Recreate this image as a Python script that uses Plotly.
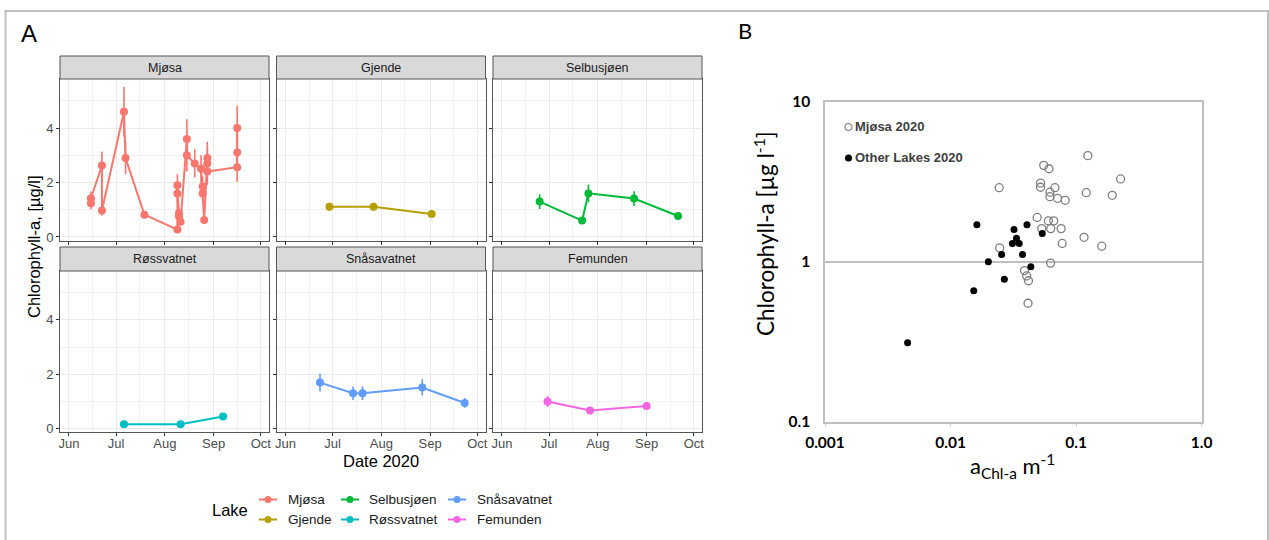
import plotly.graph_objects as go

W, H = 1269, 540

# ---------------- Panel A: chlorophyll-a time series per lake ----------------
lakes = ["Mjøsa", "Gjende", "Selbusjøen", "Røssvatnet", "Snåsavatnet", "Femunden"]
lake_colors = ["#F8766D", "#B79F00", "#00BA38", "#00BFC4", "#619CFF", "#F564E3"]

mjosa_dates = ["2020-06-15", "2020-06-15", "2020-06-22", "2020-06-22", "2020-07-06",
               "2020-07-07", "2020-07-19", "2020-08-09", "2020-08-09", "2020-08-09",
               "2020-08-10", "2020-08-10", "2020-08-11", "2020-08-15", "2020-08-15",
               "2020-08-20", "2020-08-24", "2020-08-25", "2020-08-25", "2020-08-26",
               "2020-08-28", "2020-08-28", "2020-08-28", "2020-09-16", "2020-09-16",
               "2020-09-16"]
mjosa_chl = [1.24, 1.42, 2.62, 0.97, 4.60, 2.90, 0.82, 0.27, 1.90, 1.60, 0.87, 0.75,
             0.56, 3.60, 3.00, 2.70, 2.50, 1.85, 1.60, 0.62, 2.90, 2.70, 2.40, 2.56,
             4.00, 3.10]
mjosa_err = [0.22, 0.25, 0.52, 0.18, 0.92, 0.60, 0.13, 0.05, 0.40, 0.32, 0.17, 0.15,
             0.11, 0.72, 0.60, 0.52, 0.50, 0.37, 0.32, 0.12, 0.60, 0.54, 0.48, 0.53,
             0.82, 0.62]

gjende_dates = ["2020-06-29", "2020-07-27", "2020-09-02"]
gjende_chl = [1.11, 1.11, 0.84]
gjende_err = [0.15, 0.15, 0.12]

selbu_dates = ["2020-06-25", "2020-07-22", "2020-07-26", "2020-08-24", "2020-09-21"]
selbu_chl = [1.30, 0.60, 1.60, 1.41, 0.77]
selbu_err = [0.27, 0.08, 0.33, 0.27, 0.13]

rossv_dates = ["2020-07-06", "2020-08-11", "2020-09-07"]
rossv_chl = [0.16, 0.16, 0.44]
rossv_err = [0.03, 0.03, 0.05]

snasa_dates = ["2020-06-23", "2020-07-14", "2020-07-20", "2020-08-27", "2020-09-23"]
snasa_chl = [1.69, 1.30, 1.30, 1.51, 0.94]
snasa_err = [0.33, 0.25, 0.25, 0.30, 0.18]

femun_dates = ["2020-06-30", "2020-07-27", "2020-09-01"]
femun_chl = [0.99, 0.66, 0.83]
femun_err = [0.20, 0.10, 0.14]

series = [
    (mjosa_dates, mjosa_chl, mjosa_err),
    (gjende_dates, gjende_chl, gjende_err),
    (selbu_dates, selbu_chl, selbu_err),
    (rossv_dates, rossv_chl, rossv_err),
    (snasa_dates, snasa_chl, snasa_err),
    (femun_dates, femun_chl, femun_err),
]

# ---------------- Panel B: chlorophyll-a vs absorption ----------------
mjosa_achl = [0.0244, 0.0552, 0.0608, 0.0521, 0.0521, 0.0678, 0.0619, 0.0619, 0.0711,
              0.0818, 0.124, 0.1205, 0.194, 0.226, 0.0489, 0.0601, 0.0663, 0.0532,
              0.0628, 0.0759, 0.1156, 0.160, 0.0774, 0.0246, 0.0626, 0.0388, 0.0404,
              0.0417, 0.0414]
mjosa_chl_b = [2.90, 4.00, 3.81, 3.10, 2.92, 2.90, 2.72, 2.55, 2.49, 2.42, 4.60, 2.70,
               2.60, 3.29, 1.89, 1.80, 1.80, 1.61, 1.61, 1.61, 1.42, 1.25, 1.30, 1.22,
               0.98, 0.88, 0.815, 0.76, 0.55]

other_achl = [0.0162, 0.0406, 0.0320, 0.0537, 0.0335, 0.0311, 0.0352, 0.0255, 0.0374,
              0.0200, 0.0436, 0.0268, 0.0153, 0.00455]
other_chl = [1.70, 1.70, 1.59, 1.50, 1.40, 1.30, 1.30, 1.11, 1.11, 1.00, 0.93, 0.776,
             0.659, 0.312]

b_xticks = [0.001, 0.01, 0.1, 1.0]
b_xticklabels = ["0.001", "0.01", "0.1", "1.0"]
b_yticks = [0.1, 1, 10]
b_yticklabels = ["0.1", "1", "10"]


def px(x):
    return x / W


def py(y):
    return 1 - y / H


FONT_A = "Liberation Sans, Arial, sans-serif"
FONT_B = "Lato, Carlito, sans-serif"

fig = go.Figure()
shapes = []
annotations = []

col_x0 = [60, 276.5, 493]
col_w = 209
strip_top = [56, 247]
plot_top = [79, 271]
plot_bot = [240.5, 432]

x_range = ["2020-05-26 08:00", "2020-10-06 05:00"]
y_range = [-0.13, 5.8]

for i, lake in enumerate(lakes):
    r, c = divmod(i, 3)
    n = i + 1
    dates, vals, errs = series[i]
    col = lake_colors[i]
    fig.add_trace(go.Scatter(
        x=dates, y=vals, mode="lines+markers",
        line=dict(color=col, width=2),
        marker=dict(color=col, size=8),
        error_y=dict(type="data", array=errs, color=col, thickness=1.6, width=0),
        xaxis=f"x{n}", yaxis=f"y{n}", showlegend=False, name=lake,
    ))
    x0, x1 = col_x0[c], col_x0[c] + col_w
    fig.layout[f"xaxis{n}"] = dict(
        domain=[px(x0), px(x1)], anchor=f"y{n}", type="date", range=x_range,
        automargin=False,
        dtick="M1", tick0="2020-06-01", tickformat="%b",
        showticklabels=(r == 1), ticks="outside", ticklen=3, tickcolor="#333333",
        ticklabelstandoff=-4,
        tickfont=dict(family=FONT_A, size=13, color="#4D4D4D"),
        showline=True, mirror=True, linecolor="#555555", linewidth=1,
        showgrid=True, gridcolor="#EBEBEB", gridwidth=1.2, zeroline=False,
        minor=dict(showgrid=True, gridcolor="#F2F2F2", gridwidth=0.8,
                   dtick="M1", tick0="2020-05-16"),
    )
    fig.layout[f"yaxis{n}"] = dict(
        domain=[py(plot_bot[r]), py(plot_top[r])], anchor=f"x{n}", range=y_range,
        automargin=False,
        tickvals=[0, 2, 4], showticklabels=(c == 0), ticks="outside", ticklen=3,
        tickcolor="#333333", tickfont=dict(family=FONT_A, size=13, color="#4D4D4D"),
        showline=True, mirror=True, linecolor="#555555", linewidth=1,
        showgrid=True, gridcolor="#EBEBEB", gridwidth=1.2, zeroline=False,
        minor=dict(showgrid=True, gridcolor="#F2F2F2", gridwidth=0.8, tickvals=[1, 3, 5]),
    )
    # facet strip
    shapes.append(dict(type="rect", xref="paper", yref="paper",
                       x0=px(x0), x1=px(x1), y0=py(plot_top[r]), y1=py(strip_top[r]),
                       fillcolor="#D9D9D9", line=dict(color="#555555", width=1)))
    annotations.append(dict(xref="paper", yref="paper", x=px((x0 + x1) / 2),
                            y=py((strip_top[r] + plot_top[r]) / 2), text=lake,
                            showarrow=False, xanchor="center", yanchor="middle",
                            font=dict(family=FONT_A, size=12.5, color="#1A1A1A")))

# axis titles for panel A
annotations.append(dict(xref="paper", yref="paper", x=px(381), y=py(461),
                        text="Date 2020", showarrow=False, xanchor="center",
                        yanchor="middle", font=dict(family=FONT_A, size=16.5, color="#000000")))
annotations.append(dict(xref="paper", yref="paper", x=px(34), y=py(247),
                        text="Chlorophyll-a, [µg/l]", showarrow=False, textangle=-90,
                        xanchor="center", yanchor="middle",
                        font=dict(family=FONT_A, size=16.5, color="#000000")))

# legend for panel A (3 columns x 2 rows, column-major)
annotations.append(dict(xref="paper", yref="paper", x=px(210), y=py(510), text="Lake",
                        showarrow=False, xanchor="left", yanchor="middle",
                        font=dict(family=FONT_A, size=16.5, color="#000000")))
leg_sym_x = [268, 350, 457]
leg_txt_x = [286, 367, 475]
leg_row_y = [499.5, 519.5]
for i, lake in enumerate(lakes):
    c, r = divmod(i, 2)
    cx, cy = leg_sym_x[c], leg_row_y[r]
    col = lake_colors[i]
    shapes.append(dict(type="line", xref="paper", yref="paper",
                       x0=px(cx - 9), x1=px(cx + 9), y0=py(cy), y1=py(cy),
                       line=dict(color=col, width=2)))
    shapes.append(dict(type="circle", xref="paper", yref="paper",
                       x0=px(cx - 3.5), x1=px(cx + 3.5), y0=py(cy + 3.5), y1=py(cy - 3.5),
                       fillcolor=col, line=dict(color=col, width=0)))
    annotations.append(dict(xref="paper", yref="paper", x=px(leg_txt_x[c]), y=py(cy),
                            text=lake, showarrow=False, xanchor="left", yanchor="middle",
                            font=dict(family=FONT_A, size=13.5, color="#1A1A1A")))

# ---------------- Panel B ----------------
fig.add_trace(go.Scatter(
    x=mjosa_achl, y=mjosa_chl_b, mode="markers", xaxis="x7", yaxis="y7",
    marker=dict(symbol="circle-open", size=8, color="#7F7F7F", line=dict(width=1.3)),
    showlegend=False, name="Mjøsa 2020",
))
fig.add_trace(go.Scatter(
    x=other_achl, y=other_chl, mode="markers", xaxis="x7", yaxis="y7",
    marker=dict(symbol="circle", size=7, color="#000000"),
    showlegend=False, name="Other Lakes 2020",
))

fig.layout["xaxis7"] = dict(
    domain=[px(825), px(1201.7)], anchor="y7", type="log", range=[-3, 0],
    automargin=False,
    tickvals=b_xticks, ticktext=b_xticklabels, ticks="outside", ticklen=3,
    tickcolor="#BFBFBF", ticklabelstandoff=3,
    tickfont=dict(family=FONT_B, size=15.5, color="#000000", weight="bold"),
    showline=True, mirror=True, linecolor="#BFBFBF", linewidth=1.5,
    showgrid=False, zeroline=False,
)
fig.layout["yaxis7"] = dict(
    domain=[py(421.7), py(101.7)], anchor="x7", type="log", range=[-1, 1],
    automargin=False,
    tickvals=b_yticks, ticktext=b_yticklabels, ticks="", ticklabelstandoff=10,
    tickfont=dict(family=FONT_B, size=15.5, color="#000000", weight="bold"),
    showline=True, mirror=True, linecolor="#BFBFBF", linewidth=1.5,
    showgrid=True, gridcolor="#BFBFBF", gridwidth=1.5, zeroline=False,
)

annotations.append(dict(xref="paper", yref="paper", x=px(764), y=py(234),
                        text="Chlorophyll-a [µg l<sup>-1</sup>]", showarrow=False,
                        textangle=-90, xanchor="center", yanchor="middle",
                        font=dict(family=FONT_B, size=22.5, color="#000000")))
annotations.append(dict(xref="paper", yref="paper", x=px(1012), y=py(466),
                        text="a<sub>Chl-a</sub> m<sup>-1</sup>", showarrow=False,
                        xanchor="center", yanchor="middle",
                        font=dict(family=FONT_B, size=22, color="#000000")))

# inset legend for panel B
b_leg = [("Mjøsa 2020", 127, False), ("Other Lakes 2020", 158, True)]
for label, ly, filled in b_leg:
    shapes.append(dict(type="circle", xref="paper", yref="paper",
                       x0=px(845), x1=px(852), y0=py(ly + 3.5), y1=py(ly - 3.5),
                       fillcolor="#000000" if filled else "rgba(0,0,0,0)",
                       line=dict(color="#000000" if filled else "#7F7F7F",
                                 width=0 if filled else 1.1)))
    annotations.append(dict(xref="paper", yref="paper", x=px(853), y=py(ly), text=label,
                            showarrow=False, xanchor="left", yanchor="middle",
                            font=dict(family=FONT_A, size=13, color="#404040",
                                      weight="bold")))

# panel letters
annotations.append(dict(xref="paper", yref="paper", x=px(28.5), y=py(33), text="A",
                        showarrow=False, xanchor="center", yanchor="middle",
                        font=dict(family=FONT_A, size=24, color="#000000")))
annotations.append(dict(xref="paper", yref="paper", x=px(745), y=py(31), text="B",
                        showarrow=False, xanchor="center", yanchor="middle",
                        font=dict(family=FONT_B, size=22, color="#000000")))

# outer frame
shapes.append(dict(type="rect", xref="paper", yref="paper",
                   x0=px(5.5), x1=px(1268), y0=py(560), y1=py(11),
                   line=dict(color="#C0C0C0", width=2), fillcolor="rgba(0,0,0,0)"))

fig.update_layout(
    width=W, height=H, margin=dict(l=0, r=0, t=0, b=0, autoexpand=False),
    paper_bgcolor="#FFFFFF", plot_bgcolor="#FFFFFF",
    shapes=shapes, annotations=annotations, showlegend=False,
)

fig.write_html(
    "out.html",
    post_script="document.body.style.margin='0';document.body.style.padding='0';"
                "document.body.style.overflow='hidden';",
)
